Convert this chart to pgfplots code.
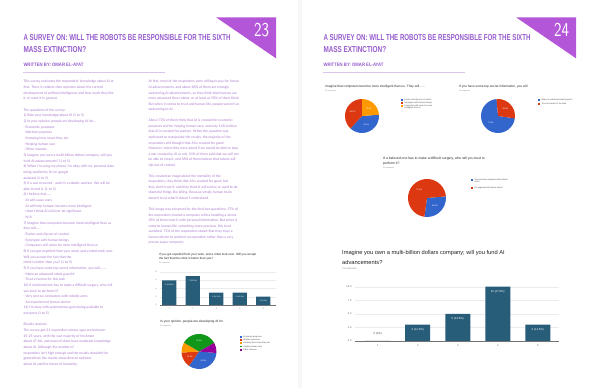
\documentclass[border=0pt]{standalone}
\usepackage{pgfplots}
\pgfplotsset{compat=1.18}
\usepackage{fontspec}
\setmainfont{Liberation Sans}
\newfontfamily\bodyf{Lato}
\usepackage{graphicx}
\usetikzlibrary{calc}
\definecolor{barc}{RGB}{40,93,122}
\definecolor{purp}{RGB}{180,86,216}
\definecolor{titlec}{RGB}{150,92,205}
\definecolor{bodyc}{RGB}{168,120,205}
\definecolor{gblue}{HTML}{3366CC}
\definecolor{gred}{HTML}{DC3912}
\definecolor{gorange}{HTML}{FF9900}
\definecolor{ggreen}{HTML}{109618}
\definecolor{gpurple}{HTML}{990099}
\newcommand{\fsz}[1]{\fontsize{#1}{#1}\selectfont}
% pie: cx, cy, r, start angle, total, list count/colour
\newcommand{\drawpie}[6]{%
  \pgfmathsetmacro\curang{#4}%
  \foreach \val/\col in {#6} {%
    \pgfmathsetmacro\endang{\curang-360*\val/#5}%
    \pgfmathsetmacro\midang{(\curang+\endang)/2}%
    \fill[\col] (#1pt,#2pt) -- ++(\curang:#3pt) arc[start angle=\curang, end angle=\endang, radius=#3pt] -- cycle;
    \ifnum\val>2
      \pgfmathsetmacro\pct{100*\val/#5}%
      \node[text=white, font=\fsz{2}, inner sep=0] at ($(#1pt,#2pt)+(\midang:{0.6*#3pt})$) {\pgfmathprintnumber[fixed,precision=1,assume math mode=true]{\pct}\%};
    \fi
    \global\let\curang\endang
  }%
}
\newcommand{\legitem}[4]{%
  \fill[#3] ($(#1pt,#2pt)+(-0.9pt,-0.9pt)$) rectangle ++(1.8pt,1.8pt);
  \node[anchor=west, inner sep=0, font=\fsz{2.1}, text=black!70, align=left] at ($(#1pt,#2pt)+(2.2pt,0)$) {#4};
}
\begin{document}
\begin{tikzpicture}
\path[use as bounding box] (0,0) rectangle (600pt,388pt);
\fill[white] (0,0) rectangle (600pt,388pt);
\fill[black!3] (298pt,0) rectangle (302pt,388pt);

% ---------- page headers ----------
\fill[purp] (216pt,370.7pt) -- (276pt,370.7pt) -- (276pt,329.7pt) -- cycle;
\node[anchor=south west, inner sep=0, text=white] at (254pt,351.3pt) {\resizebox{15pt}{13.3pt}{\sffamily 23}};
\fill[purp] (516pt,370.7pt) -- (576pt,370.7pt) -- (576pt,329.7pt) -- cycle;
\node[anchor=south west, inner sep=0, text=white] at (554pt,351.3pt) {\resizebox{15pt}{13.3pt}{\sffamily 24}};

\foreach \ox in {0,300} {
  \node[anchor=base west, inner sep=0, text=titlec] at (\ox pt+23.3pt,347.3pt) {\resizebox{207pt}{6pt}{\bfseries A SURVEY ON: WILL THE ROBOTS BE RESPONSIBLE FOR THE SIXTH}};
  \node[anchor=base west, inner sep=0, text=titlec] at (\ox pt+23.3pt,335.7pt) {\resizebox{62.7pt}{6pt}{\bfseries MASS EXTINCTION?}};
  \node[anchor=base west, inner sep=0, text=titlec] at (\ox pt+23.3pt,321pt) {\resizebox{60pt}{3.4pt}{\bfseries WRITTEN BY: OMAR EL-AYAT}};
  \draw[titlec!35, line width=0.4pt] (\ox pt+23.3pt,316pt) -- (\ox pt+165pt,316pt);
}

% ---------- left page body text ----------
\node[anchor=base west, inner sep=0, text=bodyc] at (23.3pt,305pt) {\parbox[t]{130pt}{\raggedright\bodyf\fontsize{3.4}{5.65}\selectfont
This survey evaluates the responders' knowledge about AI at\\
first. Then, it collects their opinions about the current\\
development of artificial intelligence and how much they like\\
it, or want it in general.\\[5.65pt]
The questions of the survey:\\
1) Rate your knowledge about AI (1 to 5)\\
2) In your opinion, people are developing AI for...\\
- Economic purposes\\
- Warfare purposes\\
- Knowing how smart they are\\
- Helping human race\\
- Other reasons\\
3) Imagine you own a multi-billion dollars company, will you\\
fund AI advancements? (1 to 5)\\
4) When I'm using my phone, I'm okay with my personal data\\
being studied by Siri or google\\
assistant (1 to 5)\\
5) If a war occurred - and it's a robotic warfare. We will be\\
able to end it. (1 to 5)\\
6) I believe that......\\
- AI will cause wars\\
- AI will help humans become more intelligent\\
- I don't think AI will ever be significant\\
- N/A\\
7) Imagine that computers become more intelligent than us,\\
they will......\\
- Evolve and slip out of control\\
- Synergize with human beings\\
- Computers will never be more intelligent than us\\
8) If you got expelled from your work, and a robot took over.\\
Will you accept the fact that the\\
robot is better than you? (1 to 5)\\
9) If you have some top secret information, you will........\\
- Make an advanced robot guard it\\
- Trust a human for this task\\
10) If a beloved one has to make a difficult surgery, who will\\
you trust to perform it?\\
- Very precise computers with robotic arms\\
- An experienced human doctor\\
11) I'm okay with autonomous guns being available to\\
everyone (1 to 5)\\[5.65pt]
Results analysis:\\
The survey got 21 responders whose ages are between\\
15-25 years, with the vast majority of freshmen\\
about 47.6\%, and most of them have moderate knowledge\\
about AI. Although the number of\\
responders isn't high enough and the results shouldn't be\\
generalized, the results show diverse opinions\\
about AI and the future of humanity.}};

\node[anchor=base west, inner sep=0, text=bodyc] at (148.3pt,305pt) {\parbox[t]{130pt}{\raggedright\bodyf\fontsize{3.4}{5.55}\selectfont
At first, most of the responders were willing to pay for future\\
AI advancements, and about 48\% of them are strongly\\
welcoming AI advancements, so they think that humans are\\
more advanced than robots- or at least as 50\% of them think.\\
But when it comes to trust and human life, people weren't so\\
welcoming to AI.\\[5.55pt]
About 72\% of them think that AI is created for economic\\
purposes and for helping human race, and only 14\% believe\\
that AI is created for warfare. When the question was\\
rephrased to manipulate the results, the majority of the\\
responders still thought that AI is created for good.\\
However, when they were asked if we would be able to stop\\
a war created by AI or not, 54\% of them said that we will not\\
be able to stop it, and 38\% of them believe that robots will\\
slip out of control.\\[5.55pt]
This created an image about the mentality of the\\
responders, they think that AI is created for good, but\\
they don't trust it, and they think it will evolve or used to do\\
shameful things like killing. Because simply human brain\\
doesn't trust what it doesn't understand.\\[5.55pt]
This image was enhanced by the final two questions, 57\% of\\
the responders trusted a computer with a handling a secret.\\
29\% of them trust it with personal information. But when it\\
came to human life, something more precious, this trust\\
vanished. 72\% of the responders stated that they trust a\\
human doctor to perform an operation rather than a very\\
precise super computer.}};

% ---------- left page bar chart ----------
\node[anchor=base west, inner sep=0, font=\fsz{3}, text=black!85] at (159pt,132.5pt) {If you got expelled from your work, and a robot took over. Will you accept};
\node[anchor=base west, inner sep=0, font=\fsz{3}, text=black!85] at (159pt,128pt) {the fact that the robot is better than you?};
\node[anchor=base west, inner sep=0, font=\fsz{1.8}, text=black!50] at (159pt,124pt) {21 responses};
\begin{axis}[at={(160pt,83pt)}, anchor=south west, scale only axis, width=116pt, height=33pt,
  ybar, bar width=14.3pt, xmin=0.604, xmax=5.54, ymin=0, ymax=8,
  xtick={1,2,3,4,5}, ytick={0,2,4,6,8},
  /pgf/number format/assume math mode=true,
  ymajorgrids, grid style={black!8, line width=0.25pt},
  axis x line*=bottom, axis y line*=left, y axis line style={draw=none},
  x axis line style={black!55, line width=0.3pt},
  major tick length=0pt,
  tick label style={font=\fsz{1.9}, text=black!60},
  nodes near coords, point meta=explicit symbolic,
  every node near coord/.append style={font=\fsz{1.9}, text=white, anchor=north, yshift=0pt},
  clip=false]
\addplot[fill=barc, draw=none, bar shift=0pt] coordinates {(1,6)[6 (28.6\%)] (2,7)[7 (33.3\%)] (3,3)[3 (14.3\%)] (4,3)[3 (14.3\%)] (5,2)[2 (9.5\%)]};
\end{axis}

% ---------- left page pie ----------
\node[anchor=base west, inner sep=0, font=\fsz{3.2}, text=black!85] at (160pt,65pt) {In your opinion, people are developing AI for};
\node[anchor=base west, inner sep=0, font=\fsz{1.8}, text=black!50] at (160pt,61pt) {21 responses};
\drawpie{199}{36.5}{17.5}{-5}{21}{7/gblue,3/gred,2/gorange,7/ggreen,2/gpurple}
\legitem{241}{51.3}{gblue}{Economic purposes}
\legitem{241}{48}{gred}{Warfare purposes}
\legitem{241}{44.7}{gorange}{Knowing how smart they are}
\legitem{241}{41.4}{ggreen}{Helping human race}
\legitem{241}{38.1}{gpurple}{Other reasons}

% ---------- right page pies ----------
\node[anchor=base west, inner sep=0, font=\fsz{3.2}, text=black!85] at (325pt,300.5pt) {Imagine that computers become more intelligent than us. They will......};
\node[anchor=base west, inner sep=0, font=\fsz{1.8}, text=black!50] at (325pt,296.5pt) {21 responses};
\drawpie{362}{272}{17}{4.3}{21}{8/gblue,8/gred,5/gorange}
\legitem{402}{288}{gblue}{Evolve and slip out of control}
\legitem{402}{285}{gred}{Synergize with human beings}
\fill[gorange] (401.1pt,281.1pt) rectangle ++(1.8pt,1.8pt);
\node[anchor=north west, inner sep=0, font=\fsz{2.1}, text=black!70, align=left] at (404.2pt,283.2pt) {Computers will never be more\\intelligent than us};

\node[anchor=base west, inner sep=0, font=\fsz{3.2}, text=black!85] at (459pt,300.5pt) {If you have some top secret information, you will};
\node[anchor=base west, inner sep=0, font=\fsz{1.8}, text=black!50] at (459pt,296.5pt) {21 responses};
\drawpie{498}{272}{17}{-8}{21}{15/gblue,6/gred}
\legitem{539.3}{287.7}{gblue}{Make an advanced robot guard it}
\legitem{539.3}{284}{gred}{Trust a human for the task}

\node[anchor=base west, inner sep=0, font=\fsz{3.4}, text=black!85] at (383pt,228.5pt) {If a beloved one has to make a difficult surgery, who will you trust to};
\node[anchor=base west, inner sep=0, font=\fsz{3.4}, text=black!85] at (383pt,223.5pt) {perform it?};
\node[anchor=base west, inner sep=0, font=\fsz{1.8}, text=black!50] at (383pt,219pt) {21 responses};
\drawpie{427}{190}{19}{5}{21}{6/gblue,15/gred}
\fill[gblue] (471.4pt,207.1pt) rectangle ++(1.8pt,1.8pt);
\node[anchor=north west, inner sep=0, font=\fsz{2.1}, text=black!70, align=left] at (474.5pt,209.2pt) {Very precise computers with robotic\\arms};
\legitem{472.3}{200.3}{gred}{An experienced human doctor}

% ---------- right page main bar chart ----------
\node[anchor=base west, inner sep=0, font=\fsz{5.7}, text=black!87] at (342pt,133pt) {Imagine you own a multi-billion dollars company; will you fund AI};
\node[anchor=base west, inner sep=0, font=\fsz{5.7}, text=black!87] at (342pt,123.5pt) {advancements?};
\node[anchor=base west, inner sep=0, font=\fsz{2.4}, text=black!50] at (342pt,118pt) {21 responses};
\begin{axis}[at={(355pt,47pt)}, anchor=south west, scale only axis, width=204pt, height=54.3pt,
  ybar, bar width=25pt, xmin=0.4325, xmax=5.53, ymin=0, ymax=10,
  xtick={1,2,3,4,5}, ytick={0,2.5,5,7.5,10},
  /pgf/number format/assume math mode=true,
  yticklabel style={/pgf/number format/.cd, fixed, fixed zerofill, precision=1},
  ymajorgrids, grid style={black!8, line width=0.3pt},
  axis x line*=bottom, axis y line*=left, y axis line style={draw=none},
  x axis line style={black!55, line width=0.4pt},
  major tick length=0pt,
  tick label style={font=\fsz{2.6}, text=black!60},
  xticklabel style={yshift=-0.5pt},
  nodes near coords, point meta=explicit symbolic,
  every node near coord/.append style={font=\fsz{2.8}, text=white, anchor=north, yshift=0pt},
  clip=false]
\addplot[fill=barc, draw=none, bar shift=0pt] coordinates {(2,3)[3 (14.3\%)] (3,5)[5 (23.8\%)] (4,10)[10 (47.6\%)] (5,3)[3 (14.3\%)]};
\addplot[fill=barc, draw=none, bar shift=0pt, every node near coord/.append style={text=black!70, anchor=south, yshift=2pt}] coordinates {(1,0)[0 (0\%)]};
\end{axis}
\end{tikzpicture}
\end{document}
